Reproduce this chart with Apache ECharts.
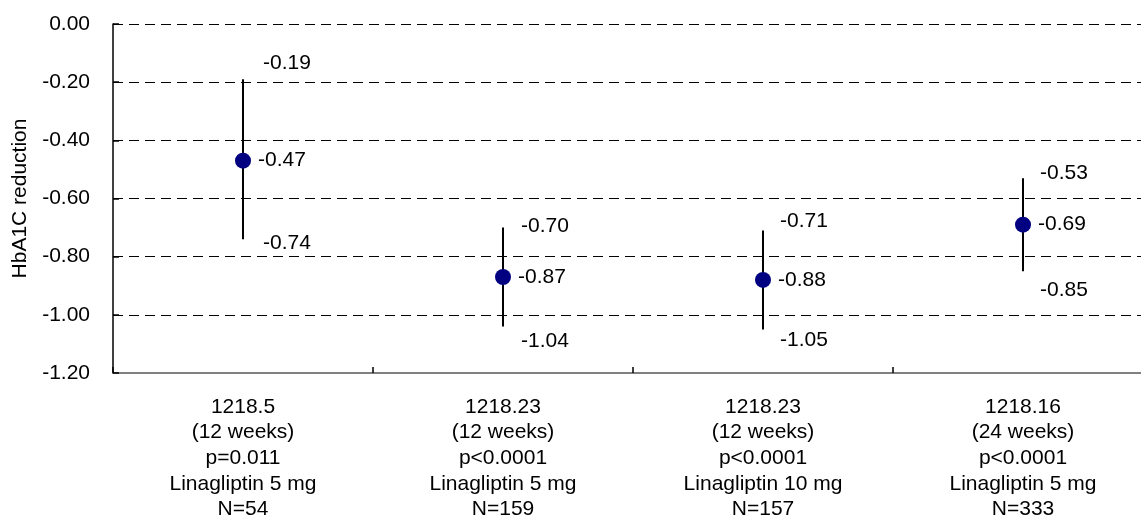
<!DOCTYPE html>
<html>
<head>
<meta charset="utf-8">
<script src="https://cdn.jsdelivr.net/npm/echarts@6/dist/echarts.min.js"></script>
<style>
html,body{margin:0;padding:0;background:#fff;}
#chart{width:1141px;height:518px;}
</style>
</head>
<body>
<div id="chart"></div>
<script>
// ---- data ----
var categories = [
  "1218.5\n(12 weeks)\np=0.011\nLinagliptin 5 mg\nN=54",
  "1218.23\n(12 weeks)\np<0.0001\nLinagliptin 5 mg\nN=159",
  "1218.23\n(12 weeks)\np<0.0001\nLinagliptin 10 mg\nN=157",
  "1218.16\n(24 weeks)\np<0.0001\nLinagliptin 5 mg\nN=333"
];
var meanValues = [-0.47, -0.87, -0.88, -0.69];
var upperValues = [-0.19, -0.70, -0.71, -0.53];
var lowerValues = [-0.74, -1.04, -1.05, -0.85];
var yTickValues = [0, -0.2, -0.4, -0.6, -0.8, -1.0, -1.2];

// ---- label placement (style only) ----
var upperLabelDy = [-16, -1, -9, -5];
var lowerLabelDy = [4, 15, 11, 19];
var labelDx = [20, 18, 17, 17];

var FONT = "'Liberation Sans', Arial, sans-serif";
var FS = 21;

var chart = echarts.init(document.getElementById('chart'), null, {renderer: 'canvas'});

var errData = categories.map(function (c, i) {
  return [i, lowerValues[i], upperValues[i]];
});

chart.setOption({
  animation: false,
  backgroundColor: '#ffffff',
  grid: {left: 113, right: -12, top: 24, bottom: 145, containLabel: false, outerBoundsMode: 'none'},
  xAxis: {
    type: 'category',
    data: categories,
    boundaryGap: true,
    position: 'bottom',
    axisLine: {show: true, onZero: false, lineStyle: {color: '#808080', width: 2}},
    axisTick: {show: true, inside: true, length: 6, lineStyle: {color: '#000', width: 1.5}},
    axisLabel: {
      interval: 0, margin: 21, color: '#000', fontFamily: FONT, fontSize: FS,
      lineHeight: 25.7, align: 'center'
    },
    splitLine: {show: false}
  },
  yAxis: {
    type: 'value',
    min: -1.2, max: 0, interval: 0.2,
    name: 'HbA1C reduction',
    nameLocation: 'middle',
    nameGap: 82,
    nameRotate: 90,
    nameTextStyle: {color: '#000', fontFamily: FONT, fontSize: FS},
    axisLine: {show: true, lineStyle: {color: '#000', width: 1.5}},
    axisTick: {show: true, inside: true, length: 6, lineStyle: {color: '#000', width: 1.5}},
    axisLabel: {
      margin: 23, color: '#000', fontFamily: FONT, fontSize: FS,
      formatter: function (v) { return v.toFixed(2); }
    },
    splitLine: {show: true, lineStyle: {color: '#000', width: 1, type: [10, 6]}}
  },
  series: [
    {
      type: 'custom',
      name: 'CI',
      data: errData,
      z: 3,
      renderItem: function (params, api) {
        var i = api.value(0);
        var lo = api.coord([i, api.value(1)]);
        var hi = api.coord([i, api.value(2)]);
        var dx = labelDx[params.dataIndex];
        return {
          type: 'group',
          children: [
            {
              type: 'line',
              shape: {x1: hi[0], y1: hi[1], x2: lo[0], y2: lo[1]},
              style: {stroke: '#000', lineWidth: 2}
            },
            {
              type: 'text',
              x: hi[0] + dx, y: hi[1] + upperLabelDy[params.dataIndex],
              style: {
                text: upperValues[params.dataIndex].toFixed(2),
                fill: '#000', font: FS + 'px ' + FONT,
                align: 'left', verticalAlign: 'middle'
              }
            },
            {
              type: 'text',
              x: lo[0] + dx, y: lo[1] + lowerLabelDy[params.dataIndex],
              style: {
                text: lowerValues[params.dataIndex].toFixed(2),
                fill: '#000', font: FS + 'px ' + FONT,
                align: 'left', verticalAlign: 'middle'
              }
            }
          ]
        };
      }
    },
    {
      type: 'scatter',
      name: 'Mean',
      data: meanValues,
      z: 5,
      symbol: 'circle',
      symbolSize: 16,
      itemStyle: {color: '#000080', opacity: 1},
      emphasis: {disabled: true},
      label: {
        show: true, position: 'right', distance: 7,
        color: '#000', opacity: 1, fontFamily: FONT, fontSize: FS,
        formatter: function (p) { return p.value.toFixed(2); }
      }
    }
  ]
});
</script>
</body>
</html>
